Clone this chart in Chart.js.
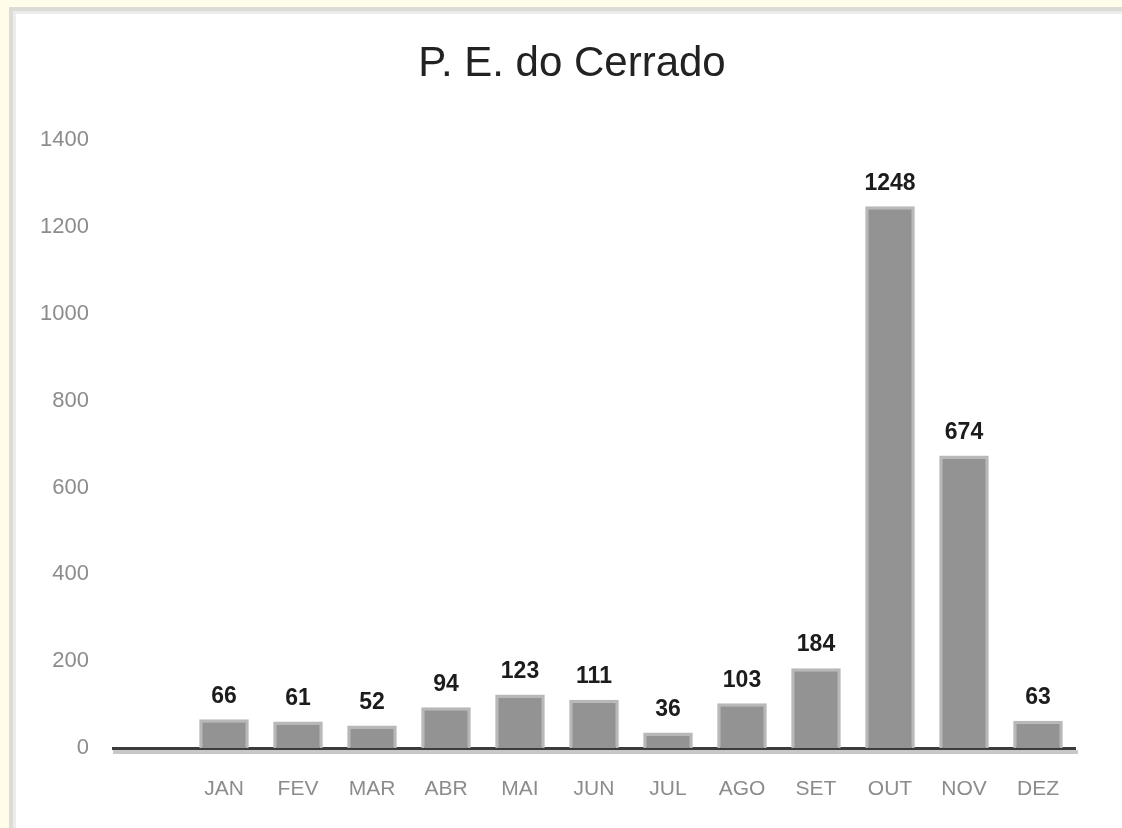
<!DOCTYPE html>
<html>
<head>
<meta charset="utf-8">
<script src="https://cdn.jsdelivr.net/npm/chart.js@4/dist/chart.umd.min.js"></script>
<style>
  html, body { margin: 0; padding: 0; }
  body { width: 1122px; height: 828px; background: #fffde9; position: relative; overflow: hidden; }
  .frame { position: absolute; left: 9px; top: 7px; right: 0; bottom: 0;
           border-left: 4px solid #dcdcd5; border-top: 4px solid #dcdcd5; }
  .inner { position: absolute; left: 0; top: 0; right: 0; bottom: 0;
           border-left: 3px solid #ececec; border-top: 3px solid #ececec; background: #fff; }
  canvas { position: absolute; left: 0; top: 0; }
</style>
</head>
<body>
<div class="frame"><div class="inner"></div></div>
<canvas id="chart" width="1122" height="828"></canvas>
<script>
// months (first slot is left empty in the original)
const months = ['', 'JAN', 'FEV', 'MAR', 'ABR', 'MAI', 'JUN', 'JUL', 'AGO', 'SET', 'OUT', 'NOV', 'DEZ'];
const counts = [null, 66, 61, 52, 94, 123, 111, 36, 103, 184, 1248, 674, 63];
const chartTitle = 'P. E. do Cerrado';

// value labels above each bar
const barLabels = {
    id: 'barLabels',
    afterDatasetsDraw(chart) {
        const ctx = chart.ctx;
        const meta = chart.getDatasetMeta(0);
        ctx.save();
        ctx.font = 'bold 23px "Liberation Sans", Arial, sans-serif';
        ctx.fillStyle = '#1c1c1c';
        ctx.textAlign = 'center';
        ctx.textBaseline = 'middle';
        meta.data.forEach((bar, i) => {
            if (counts[i] == null) return;
            ctx.fillText(String(counts[i]), bar.x, bar.y - 23);
        });
        ctx.restore();
    }
};

// light grey shadow under the dark axis line
const axisShadow = {
    id: 'axisShadow',
    beforeDatasetsDraw(chart) {
        const ctx = chart.ctx;
        const area = chart.chartArea;
        ctx.save();
        ctx.strokeStyle = '#c8c8c8';
        ctx.lineWidth = 4;
        ctx.beginPath();
        ctx.moveTo(area.left, area.bottom + 4);
        ctx.lineTo(area.right + 3, area.bottom + 4);
        ctx.stroke();
        ctx.restore();
    }
};

new Chart(document.getElementById('chart').getContext('2d'), {
    type: 'bar',
    data: {
        labels: months,
        datasets: [{
            data: counts,
            backgroundColor: '#939393',
            borderColor: '#b8b8b8',
            borderWidth: 3,
            borderSkipped: 'bottom',
            categoryPercentage: 1,
            barPercentage: 0.67
        }]
    },
    options: {
        responsive: false,
        animation: false,
        layout: { padding: { left: 22, right: 0, top: 13, bottom: 0 } },
        plugins: {
            legend: { display: false },
            tooltip: { enabled: false },
            title: {
                display: true,
                text: chartTitle,
                color: '#222',
                font: { family: '"Liberation Sans", Arial, sans-serif', size: 42, weight: 'normal', lineHeight: 1.2 },
                padding: { top: 26, bottom: 51 }
            }
        },
        scales: {
            x: {
                grid: { display: false, drawTicks: false },
                border: { display: true, color: '#3c3c3c', width: 3 },
                ticks: {
                    color: '#8c8c8c',
                    padding: 29,
                    font: { family: '"Liberation Sans", Arial, sans-serif', size: 21 }
                },
                afterFit(scale) { scale.height = 80; }
            },
            y: {
                min: 0,
                max: 1400,
                grid: { display: false, drawTicks: false },
                border: { display: false },
                ticks: {
                    stepSize: 200,
                    color: '#8c8c8c',
                    padding: 24,
                    font: { family: '"Liberation Sans", Arial, sans-serif', size: 22 },
                    callback: v => String(v)
                },
                afterFit(scale) { scale.width = 91; }
            },
            // empty right-hand axis, only keeps the plot clear of the right edge
            yRight: {
                position: 'right',
                min: 0,
                max: 1400,
                grid: { display: false, drawTicks: false },
                border: { display: false },
                ticks: { display: false },
                afterFit(scale) { scale.width = 47; }
            }
        }
    },
    plugins: [axisShadow, barLabels]
});
</script>
</body>
</html>
